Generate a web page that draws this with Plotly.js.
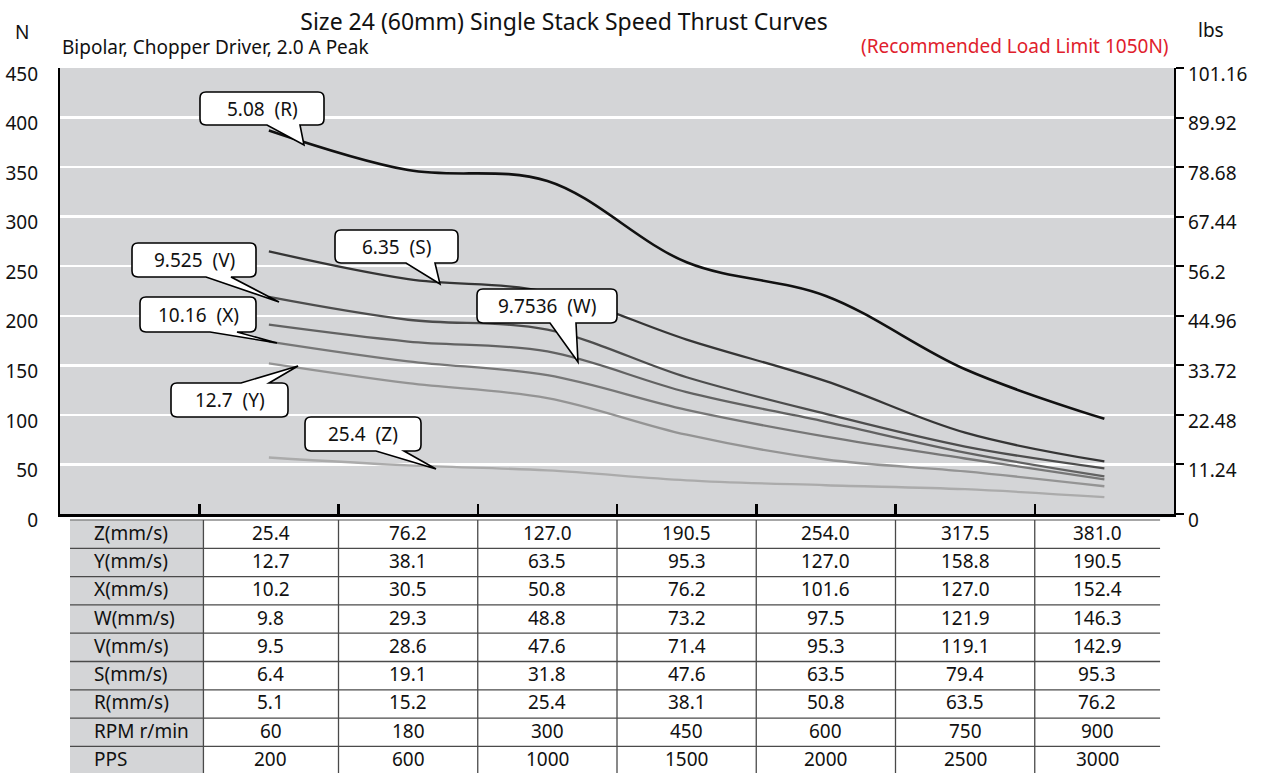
<!DOCTYPE html>
<html><head><meta charset="utf-8">
<script src="https://cdn.plot.ly/plotly-3.0.1.min.js"></script>
<style>html,body{margin:0;padding:0;background:#fff;}#chart{width:1262px;height:773px;}</style>
</head><body><div id="chart"></div>
<script>
// ---------- data ----------
const seriesNames = ["R","S","V","W","X","Y","Z"];
const thrustR = [387, 347, 336, 254, 220, 146, 96];
const thrustS = [265, 237, 224, 176, 134, 82, 53];
const thrustV = [219, 196, 186, 138, 101, 68, 46];
const thrustW = [191, 174, 164, 123, 93, 62, 38];
const thrustX = [174, 154, 140, 105, 78, 56, 35];
const thrustY = [152, 132, 117, 80, 55, 43, 28];
const thrustZ = [57, 49, 44, 34, 29, 25, 17];

const rowLabels = ["Z(mm/s)","Y(mm/s)","X(mm/s)","W(mm/s)","V(mm/s)","S(mm/s)","R(mm/s)","RPM r/min","PPS"];
const zSpeed = ["25.4","76.2","127.0","190.5","254.0","317.5","381.0"];
const ySpeed = ["12.7","38.1","63.5","95.3","127.0","158.8","190.5"];
const xSpeed = ["10.2","30.5","50.8","76.2","101.6","127.0","152.4"];
const wSpeed = ["9.8","29.3","48.8","73.2","97.5","121.9","146.3"];
const vSpeed = ["9.5","28.6","47.6","71.4","95.3","119.1","142.9"];
const sSpeed = ["6.4","19.1","31.8","47.6","63.5","79.4","95.3"];
const rSpeed = ["5.1","15.2","25.4","38.1","50.8","63.5","76.2"];
const rpm = ["60","180","300","450","600","750","900"];
const pps = ["200","600","1000","1500","2000","2500","3000"];

const newtonTicks = [0,50,100,150,200,250,300,350,400,450];
const lbsTicks = ["0","11.24","22.48","33.72","44.96","56.2","67.44","78.68","89.92","101.16"];

const calloutLabels = ["5.08  (R)","6.35  (S)","9.525  (V)","10.16  (X)","12.7  (Y)","25.4  (Z)","9.7536  (W)"];

// ---------- layout helpers ----------
const W = 1262, H = 773;
const M = {l:60, r:88, t:68, b:259};
const plotW = W - M.l - M.r, plotH = H - M.t - M.b;
const XMAX = 8, YMAX = 450;
const FONT = '"Noto Sans", "Open Sans", sans-serif';
const dX = px => (px - M.l) / plotW * XMAX;
const dY = py => (H - M.b - py) / plotH * YMAX;
const pY = py => (H - M.b - py) / plotH;   // paper y
const pX = px => (px - M.l) / plotW;       // paper x

const xPos = pps.map((_, i) => i + 1.5);

const colors = {R:'#111111', S:'#353535', V:'#4d4d4d', W:'#626262', X:'#777777', Y:'#949494', Z:'#ababab'};
const widths = {R:2.6, S:2.3, V:2.3, W:2.3, X:2.3, Y:2.3, Z:2.3};
const thrust = {R:thrustR, S:thrustS, V:thrustV, W:thrustW, X:thrustX, Y:thrustY, Z:thrustZ};

const traces = [];
seriesNames.slice().reverse().forEach(n => {
  traces.push({
    x: xPos, y: thrust[n], mode: 'lines', name: n,
    line: {color: colors[n], width: widths[n], shape: 'spline', smoothing: 1},
    hoverinfo: 'skip', showlegend: false
  });
});
traces.push({x:[null], y:[null], yaxis:'y2', mode:'lines', showlegend:false, hoverinfo:'skip'});

// ---------- callouts ----------
// tip pixel, box [l,t,r,b] offsets from tip (screen px, y down), pointer base [a1,a2], side
const calloutGeom = [
  {tip:[304,145], box:[-104,-53,20,-20], base:[-37,-4], side:'bottom'},
  {tip:[440,284], box:[-105,-54,18,-21], base:[-34,-5], side:'bottom'},
  {tip:[279,302], box:[-147,-59,-23,-25], base:[-73,-48], side:'bottom'},
  {tip:[277,343], box:[-137,-46,-21,-11], base:[-67,-40], side:'bottom'},
  {tip:[298,366], box:[-127,17,-10,51], base:[-57,-29], side:'top'},
  {tip:[436,469], box:[-131,-52,-15,-18], base:[-60,-32], side:'bottom'},
  {tip:[578,362], box:[-101,-73,39,-39], base:[-28,-2], side:'bottom'}
];
function calloutPath(g){
  const [l,t,r,b] = g.box, [a1,a2] = g.base, rr = 6;
  const pts = [];
  const P = (cmd, ...xy) => { let s = cmd; for (let i=0;i<xy.length;i+=2) s += ' ' + xy[i] + ',' + (-xy[i+1]); pts.push(s); };
  P('M', l+rr, t);
  if (g.side === 'top') { P('L', a1, t); P('L', 0, 0); P('L', a2, t); }
  P('L', r-rr, t); P('Q', r, t, r, t+rr);
  P('L', r, b-rr); P('Q', r, b, r-rr, b);
  if (g.side === 'bottom') { P('L', a2, b); P('L', 0, 0); P('L', a1, b); }
  P('L', l+rr, b); P('Q', l, b, l, b-rr);
  P('L', l, t+rr); P('Q', l, t, l+rr, t);
  return pts.join(' ') + ' Z';
}

const shapes = [];
const annotations = [];
calloutGeom.forEach((g, i) => {
  const tx = dX(g.tip[0]), ty = dY(g.tip[1]);
  shapes.push({type:'path', xref:'x', yref:'y', xsizemode:'pixel', ysizemode:'pixel',
    xanchor: tx, yanchor: ty, path: calloutPath(g),
    fillcolor:'#ffffff', line:{color:'#000000', width:1.6}, layer:'above'});
  annotations.push({xref:'x', yref:'y', x: tx, y: ty, showarrow:false,
    xshift: (g.box[0]+g.box[2])/2, yshift: -(g.box[1]+g.box[3])/2,
    text: calloutLabels[i], font:{family:FONT, size:19, color:'#111'}, xanchor:'center', yanchor:'middle'});
});

// ---------- table ----------
const tableRows = [zSpeed, ySpeed, xSpeed, wSpeed, vSpeed, sSpeed, rSpeed, rpm, pps];
const tableTop = 520, rowH = 28.3, tableBottom = 773;
const colEdges = [1.03, 2, 3, 4, 5, 6, 7, 7.9];
const tableLeft = dX(70);
shapes.push({type:'rect', xref:'x', yref:'paper', x0: tableLeft, x1: colEdges[0],
  y0: pY(tableTop), y1: pY(tableBottom), fillcolor:'#d4d5d7', line:{width:0}, layer:'above'});
for (let i = 0; i < tableRows.length; i++) {
  shapes.push({type:'line', xref:'x', yref:'paper', x0: tableLeft, x1: colEdges[colEdges.length-1],
    y0: pY(tableTop + i*rowH), y1: pY(tableTop + i*rowH), line:{color: i===0 ? '#8a8a8a' : '#4a4a4a', width:1.3}, layer:'above'});
}
for (let c = 0; c < colEdges.length - 1; c++) {
  shapes.push({type:'line', xref:'x', yref:'paper', x0: colEdges[c], x1: colEdges[c],
    y0: pY(tableTop), y1: pY(tableBottom), line:{color:'#4a4a4a', width:1.3}, layer:'above'});
}
tableRows.forEach((row, i) => {
  const cy = pY(tableTop + i*rowH + rowH/2 - 1.5);
  annotations.push({xref:'x', yref:'paper', x: dX(92), y: cy, xanchor:'left', yanchor:'middle',
    showarrow:false, text: rowLabels[i], font:{family:FONT, size:19, color:'#111'}});
  row.forEach((v, c) => {
    annotations.push({xref:'x', yref:'paper', x: (colEdges[c]+colEdges[c+1])/2, y: cy,
      xanchor:'center', yanchor:'middle', showarrow:false, text: v,
      font:{family:FONT, size:19, color:'#111'}});
  });
});

// ---------- headings ----------
annotations.push({xref:'paper', yref:'paper', x: 0, y: pY(47), xanchor:'left', yanchor:'middle', showarrow:false,
  text:'Bipolar, Chopper Driver, 2.0 A Peak', font:{family:FONT, size:19, color:'#111'}});
annotations.push({xref:'paper', yref:'paper', x: pX(1171), y: pY(46), xanchor:'right', yanchor:'middle', showarrow:false,
  text:'(Recommended Load Limit 1050N)', font:{family:FONT, size:19, color:'#e0202c'}});
annotations.push({xref:'paper', yref:'paper', x: pX(22), y: pY(32), xanchor:'center', yanchor:'middle', showarrow:false,
  text:'N', font:{family:FONT, size:19, color:'#111'}});
annotations.push({xref:'paper', yref:'paper', x: pX(1211), y: pY(30), xanchor:'center', yanchor:'middle', showarrow:false,
  text:'lbs', font:{family:FONT, size:19, color:'#111'}});

const layout = {
  width: W, height: H,
  margin: {l:M.l, r:M.r, t:M.t, b:M.b, pad:0},
  paper_bgcolor:'#ffffff', plot_bgcolor:'#d4d5d7',
  showlegend:false,
  title: {text:'Size 24 (60mm) Single Stack Speed Thrust Curves', x: 564/W, xanchor:'center',
    yref:'container', y: 1 - 22/H, yanchor:'middle', font:{family:FONT, size:23, color:'#111'}},
  xaxis: {range:[0, XMAX], tickvals:[1,2,3,4,5,6,7], ticktext:['','','','','','',''],
    ticks:'inside', ticklen:10, tickwidth:2.5, tickcolor:'#000', showgrid:false, zeroline:false,
    showline:true, linecolor:'#000', linewidth:3, fixedrange:true},
  yaxis: {range:[0, YMAX], tickvals:newtonTicks, ticktext:newtonTicks.map(String),
    gridcolor:'#ffffff', gridwidth:2.5, zeroline:false, showline:true, linecolor:'#000', linewidth:2.2,
    ticks:'outside', ticklen:16, tickcolor:'rgba(0,0,0,0)', ticklabelshift:6,
    tickfont:{family:FONT, size:19, color:'#111'}, fixedrange:true},
  yaxis2: {overlaying:'y', side:'right', range:[0, Number(lbsTicks[lbsTicks.length-1])],
    tickvals: lbsTicks.map(Number), ticktext: lbsTicks, showgrid:false, zeroline:false,
    showline:true, linecolor:'#000', linewidth:2.2, ticks:'outside', ticklen:8, tickwidth:2, tickcolor:'#000',
    ticklabelshift:6, tickfont:{family:FONT, size:19, color:'#111'}, fixedrange:true},
  shapes: shapes,
  annotations: annotations,
  hovermode:false
};

Plotly.newPlot('chart', traces, layout, {displayModeBar:false, staticPlot:true});
</script>
</body></html>
